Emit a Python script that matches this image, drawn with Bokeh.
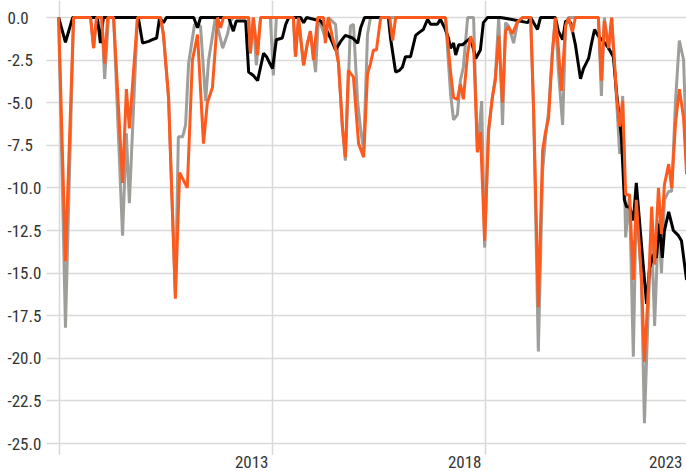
from bokeh.plotting import figure
from bokeh.models import Range1d, FixedTicker, Label, BoxAnnotation
from bokeh.embed import file_html
from bokeh.resources import INLINE

# ---------------- data (decimal years, drawdown %) ----------------
black_t = [2007.98, 2008.14, 2008.31, 2008.89, 2008.96, 2009.03, 2009.85, 2009.95, 2010.09, 2010.18,
           2010.28, 2010.35, 2010.44, 2010.51, 2011.15, 2011.24, 2011.31, 2011.97, 2012.08, 2012.15,
           2012.37, 2012.44, 2012.55, 2012.65, 2012.79, 2012.86, 2013.00, 2013.09, 2013.23, 2013.31,
           2013.38, 2013.66, 2013.73, 2013.80, 2014.13, 2014.24, 2014.36, 2014.48, 2014.60, 2014.71,
           2014.88, 2015.00, 2015.07, 2015.16, 2015.72, 2015.77, 2015.89, 2015.98, 2016.05, 2016.12,
           2016.24, 2016.36, 2016.43, 2016.54, 2016.64, 2016.71, 2016.87, 2016.94, 2017.04, 2017.13,
           2017.18, 2017.25, 2017.30, 2017.37, 2017.46, 2017.55, 2017.65, 2017.77, 2017.88, 2017.95,
           2018.05, 2018.35, 2018.59, 2018.99, 2019.06, 2019.22, 2019.29, 2019.64, 2019.71, 2019.81,
           2019.88, 2020.00, 2020.11, 2020.23, 2020.30, 2020.42, 2020.49, 2020.56, 2020.65, 2020.77,
           2020.89, 2021.00, 2021.08, 2021.19, 2021.26, 2021.31, 2021.38, 2021.47, 2021.54, 2021.66,
           2021.78, 2021.85, 2021.94, 2022.01, 2022.08, 2022.15, 2022.20, 2022.30, 2022.41, 2022.53,
           2022.60, 2022.72]
black_v = [0, -1.45, 0, 0, -1.5, 0, 0, -1.5, -1.4, -1.3,
           -1.2, 0, -0.3, 0, 0, -0.6, 0, 0, -0.8, -0.2,
           -0.2, -3.2, -3.4, -3.7, -2.1, -2.3, -3.0, -1.3, -1.2, -0.4,
           0, 0, -0.3, 0, -0.2, -0.6, -1.2, -1.9, -1.4, -1.05,
           -1.2, -1.5, -0.6, 0, 0, -1.2, -3.2, -3.1, -2.9, -2.3,
           -2.3, -1.05, -0.9, -0.7, -0.1, -0.4, -0.4, -0.1, -0.6, -1.2,
           -1.8, -1.5, -2.2, -1.6, -1.6, -1.4, -1.2, -2.4, -1.9, -0.3,
           0, 0, -0.1, -0.3, 0, -0.7, 0, 0, -0.8, -1.3,
           -0.2, -0.3, -1.6, -3.6, -3.0, -2.4, -1.5, -0.7, -1.1, -1.4,
           -1.8, -2.3, -4.5, -7.0, -10.7, -11.1, -11.1, -11.9, -9.7, -13.3,
           -16.8, -14.7, -13.9, -14.1, -12.1, -14.1, -12.5, -11.4, -12.5, -12.8,
           -13.1, -15.4]

orange_t = [2007.98, 2008.14, 2008.33, 2008.73, 2008.80, 2008.87, 2008.99, 2009.06, 2009.13, 2009.27,
            2009.48, 2009.57, 2009.64, 2009.83, 2010.37, 2010.44, 2010.56, 2010.72, 2010.82, 2011.00,
            2011.12, 2011.24, 2011.38, 2011.47, 2011.59, 2011.71, 2011.78, 2011.85, 2012.44, 2012.48,
            2012.55, 2012.65, 2012.72, 2013.49, 2013.54, 2013.61, 2013.73, 2013.82, 2013.89, 2013.96,
            2014.06, 2014.20, 2014.24, 2014.31, 2014.41, 2014.48, 2014.55, 2014.64, 2014.71, 2014.78,
            2014.90, 2015.02, 2015.14, 2015.23, 2015.30, 2015.37, 2015.44, 2015.54, 2015.75, 2015.82,
            2015.89, 2017.06, 2017.18, 2017.25, 2017.34, 2017.41, 2017.48, 2017.58, 2017.65, 2017.72,
            2017.81, 2017.88, 2017.98, 2018.07, 2018.16, 2018.23, 2018.31, 2018.40, 2018.47, 2018.54,
            2018.63, 2018.75, 2018.87, 2019.06, 2019.13, 2019.24, 2019.34, 2019.41, 2019.48, 2019.57,
            2019.64, 2019.71, 2019.78, 2019.88, 2019.95, 2020.04, 2020.11, 2020.65, 2020.72, 2020.79,
            2020.89, 2020.96, 2021.08, 2021.15, 2021.22, 2021.29, 2021.38, 2021.47, 2021.54, 2021.66,
            2021.73, 2021.83, 2021.90, 2021.97, 2022.06, 2022.13, 2022.20, 2022.30, 2022.37, 2022.46,
            2022.55, 2022.65, 2022.72]
orange_v = [0, -14.3, 0, 0, -1.8, 0, 0, -2.7, 0, 0,
            -9.7, -4.2, -6.5, 0, 0, -1.0, -4.7, -16.5, -9.1, -10.0,
            -2.5, -1.0, -7.4, -5.0, -4.1, 0, -0.6, 0, 0, -2.1,
            0, -2.2, 0, 0, -2.3, 0, -2.8, -1.5, -0.8, -2.5,
            0, 0, -1.5, 0, -1.2, -1.8, -2.7, -6.4, -8.2, -3.1,
            -3.5, -7.4, -8.2, -3.3, -2.7, -1.9, -1.9, 0, 0, -1.35,
            0, 0, -3.2, -4.7, -4.8, -3.9, -4.8, -2.1, -1.1, -1.6,
            -7.9, -6.7, -13.1, -6.6, -4.7, -3.7, -1.06, -5.0, -0.8, -0.55,
            -0.95, -0.25, 0, 0, -5.5, -17.0, -7.8, -6.7, -5.9, -2.1,
            0, -1.75, -4.3, -0.5, 0, -0.85, 0, 0, -3.7, -0.2,
            -1.8, 0, -4.7, -6.4, -4.9, -10.4, -10.4, -15.4, -10.7, -15.2,
            -20.2, -15.6, -11.1, -14.5, -10.0, -12.7, -9.8, -8.6, -10.0, -6.2,
            -4.2, -5.9, -9.2]

gray_t = [2007.98, 2008.14, 2008.33, 2008.73, 2008.80, 2008.87, 2008.99, 2009.06, 2009.15, 2009.27,
          2009.48, 2009.57, 2009.64, 2009.83, 2010.37, 2010.44, 2010.56, 2010.72, 2010.79, 2010.89,
          2010.96, 2011.03, 2011.17, 2011.31, 2011.43, 2011.50, 2011.66, 2011.83, 2011.94, 2012.01,
          2012.08, 2012.44, 2012.48, 2012.55, 2012.62, 2012.72, 2012.95, 2013.02, 2013.09, 2013.49,
          2013.54, 2013.61, 2013.73, 2013.82, 2013.89, 2014.01, 2014.08, 2014.24, 2014.31, 2014.48,
          2014.55, 2014.64, 2014.71, 2014.83, 2014.90, 2015.00, 2015.07, 2015.14, 2015.23, 2015.30,
          2017.06, 2017.18, 2017.25, 2017.34, 2017.41, 2017.48, 2017.58, 2017.72, 2017.81, 2017.91,
          2017.98, 2018.07, 2018.16, 2018.23, 2018.31, 2018.40, 2018.47, 2018.54, 2018.66, 2018.75,
          2018.87, 2019.06, 2019.13, 2019.24, 2019.34, 2019.41, 2019.48, 2019.57, 2019.64, 2019.71,
          2019.81, 2019.88, 2019.95, 2020.65, 2020.72, 2020.79, 2020.89, 2020.96, 2021.08, 2021.15,
          2021.22, 2021.29, 2021.38, 2021.47, 2021.54, 2021.66, 2021.73, 2021.83, 2021.90, 2021.97,
          2022.06, 2022.13, 2022.20, 2022.30, 2022.37, 2022.46, 2022.55, 2022.65, 2022.72]
gray_v = [0, -18.2, 0, 0, -1.8, 0, 0, -3.6, 0, 0,
          -12.8, -6.8, -10.9, 0, 0, -1.0, -4.7, -16.3, -7.0, -7.0,
          -6.3, -2.7, -0.4, -0.5, -4.9, -2.5, 0, -1.8, -1.0, -0.2,
          0, 0, -2.1, 0, -2.8, 0, 0, -3.4, 0, 0,
          -2.3, 0, -2.8, -1.5, -0.8, -3.2, 0, -1.2, 0, -0.4,
          -2.7, -6.4, -8.4, -0.5, -0.4, -5.0, -6.6, -7.8, -1.0, 0,
          0, -4.5, -6.0, -5.7, -3.7, -2.9, 0, 0, -7.9, -4.9,
          -13.5, -6.8, -4.7, -3.5, 0, -6.3, -0.3, -0.5, -1.5, -0.3,
          0, 0, -5.5, -19.6, -9.0, -7.0, -5.5, -2.0, 0, -3.1,
          -6.3, -0.4, 0, 0, -4.6, 0, -1.9, 0, -5.0, -8.0,
          -4.6, -12.9, -10.4, -19.9, -10.5, -15.5, -23.8, -16.4, -12.9, -18.1,
          -11.9, -15.0, -10.7, -10.2, -10.2, -4.9, -1.35, -2.5, -7.8]

y_ticks = [0.0, -2.5, -5.0, -7.5, -10.0, -12.5, -15.0, -17.5, -20.0, -22.5, -25.0]
x_grid_years = [2008, 2013, 2018, 2023]
x_label_years = [2013, 2018, 2023]

# ---------------- styling ----------------
GRAY = "#9e9e9a"
BLACK = "#000000"
ORANGE = "#fd5a1e"
GRID = "#d9d9d9"
TEXT = "#333333"
FONT = "Roboto Condensed"

# the whole canvas is the plot frame; label areas are kept free with white masks
X0, X1 = 2006.615, 2022.718
Y0, Y1 = -26.64, 1.0
GRID_LEFT = 2007.695     # horizontal grid lines start here
GRID_BOTTOM = -25.65     # vertical grid lines end here

p = figure(width=686, height=471, output_backend="svg", toolbar_location=None,
           x_range=Range1d(X0, X1), y_range=Range1d(Y0, Y1),
           min_border_left=0, min_border_right=0, min_border_top=0, min_border_bottom=0)
p.xaxis.visible = False
p.yaxis.visible = False
p.outline_line_color = None
p.background_fill_color = "white"
p.border_fill_color = "white"

p.xgrid.ticker = FixedTicker(ticks=x_grid_years)
p.ygrid.ticker = FixedTicker(ticks=y_ticks)
for g in (p.xgrid, p.ygrid):
    g.grid_line_color = GRID
    g.grid_line_width = 1.6

p.add_layout(BoxAnnotation(right=GRID_LEFT, fill_color="white", fill_alpha=1,
                           line_color=None, level="underlay"))
p.add_layout(BoxAnnotation(top=GRID_BOTTOM, fill_color="white", fill_alpha=1,
                           line_color=None, level="underlay"))

p.line(gray_t, gray_v, line_color=GRAY, line_width=3)
p.line(black_t, black_v, line_color=BLACK, line_width=3)
p.line(orange_t, orange_v, line_color=ORANGE, line_width=3)

for t in y_ticks:
    p.add_layout(Label(x=X0, y=t, x_units="data", y_units="data", text=f"{t:.1f}",
                       x_offset=7, text_align="left", text_baseline="middle",
                       text_font=FONT, text_font_size="17px", text_color=TEXT))

for yr in x_label_years:
    xpos = min(yr, X1)
    p.add_layout(Label(x=xpos, y=GRID_BOTTOM, x_units="data", y_units="data",
                       text=str(yr), text_align="right", text_baseline="top",
                       x_offset=-4, y_offset=-1,
                       text_font=FONT, text_font_size="17px", text_color=TEXT))

open("out.html", "w").write(file_html(p, INLINE))
